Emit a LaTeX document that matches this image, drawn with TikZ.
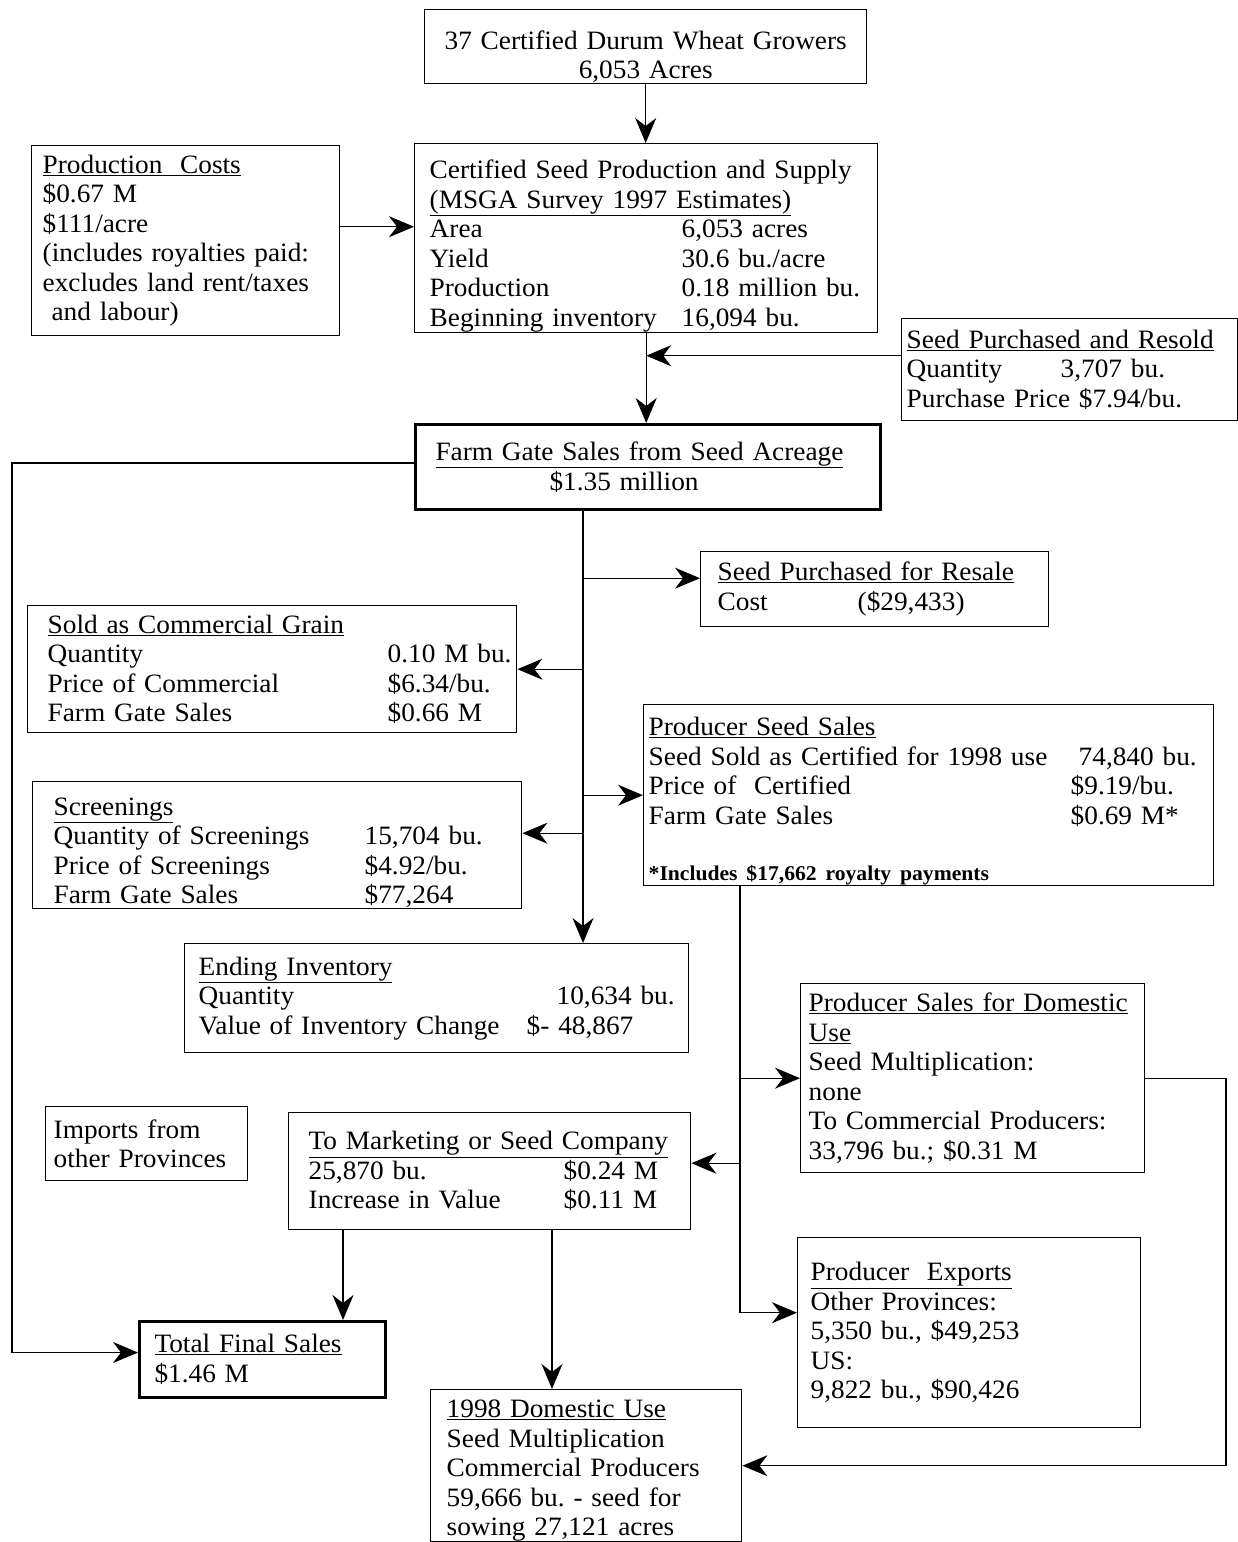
\documentclass[tikz,border=0pt]{standalone}
\usepackage{fontspec}
\setmainfont[FakeStretch=1.03]{Liberation Serif}
\usetikzlibrary{positioning,calc,arrows.meta}
\frenchspacing

\begin{document}
\begin{tikzpicture}[
      x=1pt,y=-1pt,
      line width=1.4pt,
      >={Stealth[length=25pt,width=21pt,inset=8pt]},
      every node/.style={font=\fontsize{26.5}{29.5}\selectfont},
      box/.style={draw,anchor=north west,align=left,line width=1.4pt},
      heavybox/.style={box,line width=3pt},
      ]
      \useasboundingbox (0,0) rectangle (1238,1542);
      \node[box,align=center,text width=422pt,inner xsep=10pt,inner ysep=0pt,minimum height=74pt] (seedGrowers) at (424,9)
        {\rule{0pt}{39pt}37 Certified Durum Wheat Growers\\6,053 Acres};
      \node[box,text width=286pt,inner xsep=11pt,minimum height=190pt] (seedCosts) at (31,145)
        {\underline{Production\ \ Costs}\\\$0.67 M\\\$111/acre\\(includes royalties paid:\\excludes land rent/taxes\\\ and labour)};
      \node[box,text width=433pt,inner xsep=15pt,inner ysep=0pt,minimum height=189pt] (seedSupply) at (414,143)
        {\rule{0pt}{34pt}Certified Seed Production and Supply\\\underline{(MSGA Survey 1997 Estimates)}\\
         \makebox[252pt][l]{Area}6,053~acres\\
         \makebox[252pt][l]{Yield}30.6~bu./acre\\
         \makebox[252pt][l]{Production}0.18~million~bu.\\
         \makebox[252pt][l]{Beginning inventory}16,094~bu.};
      \node[box,text width=326pt,inner xsep=5pt,minimum height=102pt] (seedResold) at (901,318)
        {\underline{Seed Purchased and Resold}\\
         \makebox[154pt][l]{Quantity}3,707~bu.\\
         Purchase Price \$7.94/bu.};
      \node[heavybox,text width=425pt,inner xsep=20pt,minimum height=85pt] (seedGate) at (414,423)
        {\underline{Farm Gate Sales from Seed Acreage}\\\hspace*{114pt}\$1.35 million};
      \node[box,text width=314pt,inner xsep=17pt,minimum height=75pt] (seedResale) at (700,551)
        {\underline{Seed Purchased for Resale}\\
         \makebox[140pt][l]{Cost}(\$29,433)};
      \node[box,text width=449pt,inner xsep=20pt,minimum height=127pt] (seedGrain) at (27,605)
        {\underline{Sold as Commercial Grain}\\
         \makebox[340pt][l]{Quantity}0.10~M~bu.\\
         \makebox[340pt][l]{Price of Commercial}\$6.34/bu.\\
         \makebox[340pt][l]{Farm Gate Sales}\$0.66~M};
      \node[box,text width=560pt,inner xsep=5pt,inner ysep=0pt,minimum height=181pt] (seedSales) at (643,704)
        {\rule{0pt}{31pt}\underline{Producer Seed Sales}\\
         \makebox[422pt][l]{Seed Sold as Certified for 1998 use}\hspace{8pt}74,840~bu.\\
         \makebox[422pt][l]{Price of\ \ Certified}\$9.19/bu.\\
         \makebox[422pt][l]{Farm Gate Sales}\$0.69~M*\\[27pt]
         {\fontsize{21}{24}\selectfont\bfseries *Includes \$17,662 royalty payments}};
      \node[box,text width=447pt,inner xsep=21pt,inner ysep=0pt,minimum height=127pt] (seedScreen) at (32,781)
        {\rule{0pt}{33pt}\underline{Screenings}\\
         \makebox[311pt][l]{Quantity of Screenings}15,704~bu.\\
         \makebox[311pt][l]{Price of Screenings}\$4.92/bu.\\
         \makebox[311pt][l]{Farm Gate Sales}\$77,264};
      \node[box,text width=476pt,inner xsep=14pt,minimum height=109pt] (seedEnding) at (184,943)
        {\underline{Ending Inventory}\\
         \makebox[358pt][l]{Quantity}10,634~bu.\\
         \makebox[328pt][l]{Value of Inventory Change}\$-~48,867};
      \node[box,text width=328pt,inner xsep=8pt,minimum height=189pt] (seedDomestic) at (800,983)
        {\underline{Producer Sales for Domestic}\\\underline{Use}\\Seed Multiplication:\\none\\
         To Commercial Producers:\\33,796 bu.; \$0.31~M};
      \node[box,text width=186pt,inner xsep=8pt,minimum height=74pt] (seedImports) at (45,1106)
        {Imports from\\other~Provinces};
      \node[box,text width=362pt,inner xsep=20pt,minimum height=117pt] (seedMarket) at (288,1112)
        {\underline{To Marketing or Seed Company}\\
         \makebox[255pt][l]{25,870 bu.}\$0.24~M\\
         \makebox[255pt][l]{Increase in Value}\$0.11~M};
      \node[box,text width=317pt,inner xsep=13pt,minimum height=190pt] (seedExports) at (797,1237)
        {\underline{Producer\ \ Exports}\\Other Provinces:\\5,350 bu., \$49,253\\US:\\9,822 bu., \$90,426};
      \node[heavybox,text width=216pt,inner xsep=15pt,minimum height=76pt] (seedTotal) at (138,1320)
        {\underline{Total Final Sales}\\\$1.46 M};
      \node[box,text width=279pt,inner xsep=16pt,inner ysep=0pt,minimum height=152pt] (seedUse) at (430,1389)
        {\rule{0pt}{28pt}\underline{1998 Domestic Use}\\Seed Multiplication\\Commercial Producers\\59,666 bu. - seed for\\sowing 27,121 acres};

      \coordinate (leftRail) at (12,0);
      \coordinate (rightRail) at (1226,0);
      \coordinate (trunkA) at (583,0);
      \coordinate (trunkB) at (740,0);
      \coordinate (dropA) at (343,0);
      \coordinate (dropB) at (552,0);

      \draw[->] (seedGrowers.south) -- (seedGrowers.south |- seedSupply.north);
      \draw[->] ([yshift=14pt]seedCosts.east) -- ([yshift=14pt]seedCosts.east -| seedSupply.west);
      \draw[->] (seedSupply.south) -- (seedSupply.south |- seedGate.north);
      \draw[->] ([yshift=14pt]seedResold.west) -- ([yshift=14pt]seedResold.west -| seedSupply.south);
      \draw[->] ([yshift=4pt]seedGate.west) -| ([yshift=7pt]leftRail |- seedTotal.west) -- ([yshift=7pt]seedTotal.west);
      \draw[->] (seedGate.south -| trunkA) -- (seedEnding.north -| trunkA);
      \draw[->] ([yshift=11pt]seedResale.west -| trunkA) -- ([yshift=11pt]seedResale.west);
      \draw[->] (seedGrain.east -| trunkA) -- (seedGrain.east);
      \draw[->] (seedSales.west -| trunkA) -- (seedSales.west);
      \draw[->] ([yshift=12pt]seedScreen.east -| trunkA) -- ([yshift=12pt]seedScreen.east);
      \draw (seedSales.south -| trunkB) -- ([yshift=20pt]seedExports.west -| trunkB);
      \draw[->] (seedDomestic.west -| trunkB) -- (seedDomestic.west);
      \draw[->] ([yshift=8pt]seedMarket.east -| trunkB) -- ([yshift=8pt]seedMarket.east);
      \draw[->] ([yshift=20pt]seedExports.west -| trunkB) -- ([yshift=20pt]seedExports.west);
      \draw[->] (seedMarket.south -| dropA) -- (seedTotal.north -| dropA);
      \draw[->] (seedMarket.south -| dropB) -- (seedUse.north -| dropB);
      \draw[->] (seedDomestic.east) -| (rightRail |- seedUse.east) -- (seedUse.east);
    \end{tikzpicture}
\end{document}
